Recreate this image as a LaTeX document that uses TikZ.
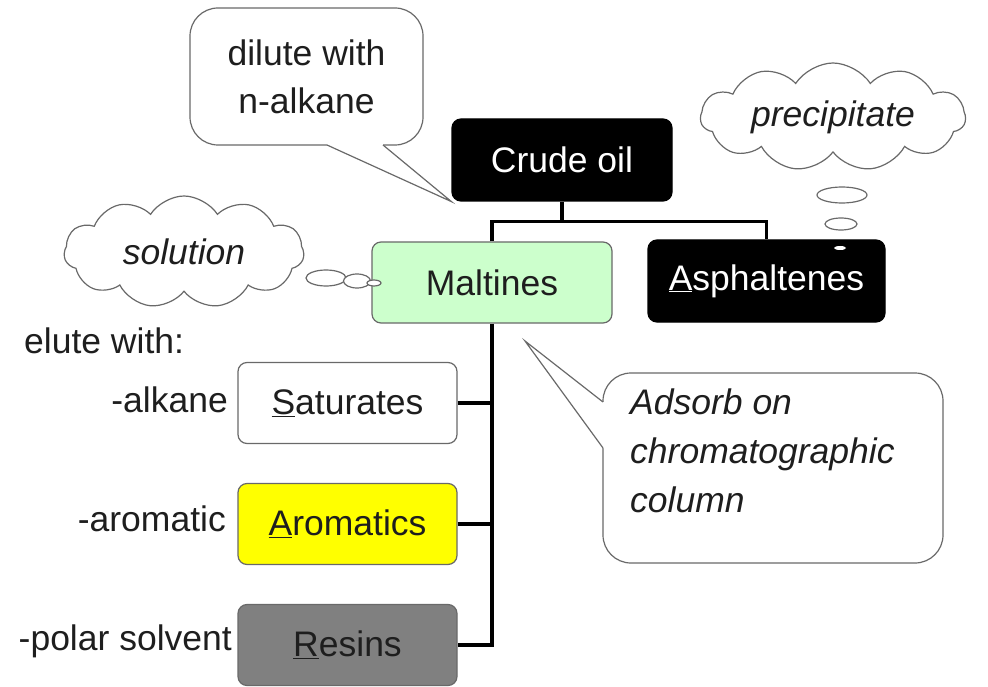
\documentclass[tikz,border=0pt]{standalone}
\usepackage{fontspec}
\setmainfont{Liberation Sans}
\usetikzlibrary{positioning,shapes.geometric,shapes.symbols}
\definecolor{maltgreen}{RGB}{204,255,204}
\definecolor{resingray}{RGB}{128,128,128}
\definecolor{edgegray}{RGB}{105,105,105}
\definecolor{inkgray}{RGB}{30,30,30}
\definecolor{aroyellow}{RGB}{255,255,0}

\begin{document}
\begin{tikzpicture}[x=1pt,y=-1pt,
    every node/.style={font=\fontsize{35.5}{48}\selectfont,text=inkgray},
    fraction/.style={draw=edgegray,line width=1.2pt,rounded corners=9pt,minimum width=219pt,minimum height=81pt,inner sep=0pt},
    darkbox/.style={fraction,fill=black,draw=black,text=white},
    tree/.style={line width=3.1pt,black},
    bubble/.style={draw=edgegray,line width=1.2pt,fill=white,rounded corners=28pt,inner sep=0pt},
    tail/.style={draw=edgegray,line width=1.2pt,line join=miter},
    puff/.style={cloud,cloud puffs=11,cloud puff arc=115,cloud ignores aspect,draw=edgegray,line width=1.2pt,fill=white,inner sep=0pt,font=\fontsize{35.5}{48}\selectfont\itshape},
    thought/.style={ellipse,draw=edgegray,line width=1.2pt,fill=white,inner sep=0pt},
    lbl/.style={inner sep=0pt}]
  \useasboundingbox (0,0) rectangle (988,687);
  % Crude oil and the first split
  \node[darkbox,minimum width=220pt,minimum height=82pt] (crude) at (562,160) {Crude oil};
  \node[fraction,fill=maltgreen,minimum width=240pt] (malt) at (492,282.5) {Maltines};
  \node[darkbox,minimum width=237pt,minimum height=82pt] (asph) at (766.5,281) {\underline{A}sphaltenes};
  % Fractions from the column
  \node[fraction] (sat) at (347.5,403) {\underline{S}aturates};
  \node[fraction,fill=aroyellow] (arom) at (347.5,524) {\underline{A}romatics};
  \node[fraction,fill=resingray] (resin) at (347.5,645) {\underline{R}esins};
  % Tree lines
  \draw[tree] (crude.south) -- ++(0,20) coordinate (fork);
  \draw[tree] (malt.north) |- (fork) -| (asph.north);
  \draw[tree] (malt.south) |- (resin.east);
  \foreach \n in {sat,arom}
    \draw[tree] (\n.east) -- (\n.east -| malt.south);
  % Eluents
  \node[lbl,anchor=base west] (elute) at (24,353) {elute with:};
  \node[lbl,anchor=base east] (alk) at (228,412) {-alkane};
  \node[lbl,anchor=base east] (aro) at (226,531) {-aromatic};
  \node[lbl,anchor=base east] (pol) at (232,650) {-polar solvent};
  % Speech bubble: dilute
  \node[bubble,minimum width=233pt,minimum height=137pt,align=center] (dilute) at (306.5,76.5) {dilute with\\n-alkane};
  \coordinate (d1) at (327,145);
  \coordinate (d2) at (383,145);
  \fill[white] ([yshift=4pt]d1) -- (d1) -- (crude.south west) -- (d2) -- ([yshift=4pt]d2) -- cycle;
  \draw[tail] (d1) -- (crude.south west) -- (d2);
  % Speech bubble: adsorb
  \node[bubble,minimum width=340pt,minimum height=190pt] (adsorb) at (773,468) {};
  \node[lbl,anchor=north west,align=left,font=\fontsize{35.5}{49}\selectfont\itshape] (adsorbtxt) at (630,389) {Adsorb on\\chromatographic\\column};
  \coordinate (a1) at (603,402);
  \coordinate (a2) at (603,448);
  \coordinate (atip) at (525,341);
  \fill[white] ([xshift=4pt]a1) -- (a1) -- (atip) -- (a2) -- ([xshift=4pt]a2) -- cycle;
  \draw[tail] (a1) -- (atip) -- (a2);
  % Thought clouds
  \node[puff,minimum width=265pt,minimum height=108pt] (precip) at (833,117) {precipitate};
  \node[thought,minimum width=50pt,minimum height=16pt] (p1) at (842,195) {};
  \node[thought,minimum width=32pt,minimum height=12pt] (p2) at (841,224) {};
  \node[thought,draw=none,minimum width=12pt,minimum height=4pt] (p3) at (840,248) {};
  \node[puff,minimum width=240pt,minimum height=112pt] (sol) at (184,252) {solution};
  \node[thought,minimum width=40pt,minimum height=16pt] (s1) at (326,278) {};
  \node[thought,minimum width=27pt,minimum height=14pt] (s2) at (357,281) {};
  \node[thought,minimum width=14pt,minimum height=6pt] (s3) at (374,283) {};
\end{tikzpicture}
\end{document}
